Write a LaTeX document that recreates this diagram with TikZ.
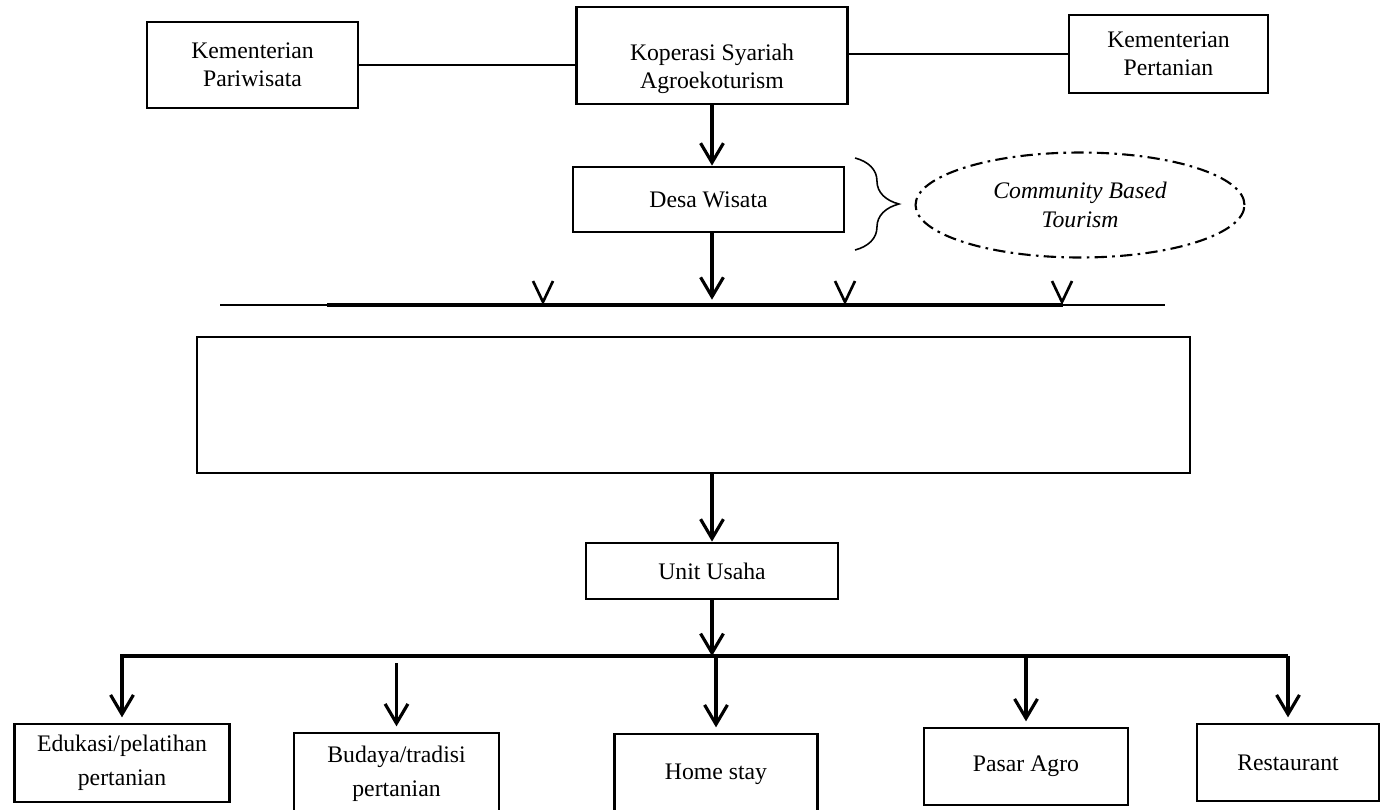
\documentclass[tikz,border=0pt]{standalone}
\usepackage{fontspec}
\setmainfont{Liberation Serif}
\usetikzlibrary{arrows.meta,shapes.geometric,decorations.pathreplacing}

\begin{document}
\begin{tikzpicture}[
      x=0.02cm, y=-0.02cm,
      font=\fontsize{13.5}{16}\selectfont,
      >={Straight Barb[length=11pt,width=13pt]},
      box/.style={draw, line width=1.6pt, align=center, inner sep=0pt},
      low/.style={box, font=\fontsize{13.5}{19.5}\selectfont},
      arr/.style={->, line width=1.8pt},
      hub/.style={line width=0.8pt}
    ]
    \useasboundingbox (0,0) rectangle (1381,809);
    % atas
    \node[box, minimum width=4.22cm, minimum height=1.72cm] (kpar) at (252.5,65) {Kementerian\\Pariwisata};
    \node[box, minimum width=5.42cm, minimum height=1.94cm] (kop) at (712,55.5)
      {\raisebox{-7.5pt}[\height][\depth]{\begin{tabular}{@{}c@{}}Koperasi Syariah\\Agroekoturism\end{tabular}}};
    \node[box, minimum width=3.98cm, minimum height=1.56cm] (ktan) at (1168.5,54) {Kementerian\\Pertanian};
    \draw[hub] (kpar.east) -- (kpar.east -| kop.west);
    \draw[hub] (kop.east |- ktan.west) -- (ktan.west);
    % desa wisata
    \node[box, minimum width=5.42cm, minimum height=1.30cm] (desa) at (708.5,199.5) {Desa Wisata};
    \node[ellipse, draw, line width=1.2pt, dash pattern=on 7pt off 3pt on 1.5pt off 3pt,
          minimum width=6.58cm, minimum height=2.1cm, align=center,
          font=\fontsize{13.5}{16.5}\selectfont\itshape] (cbt) at (1080,205) {Community Based\\Tourism};
    \draw[decorate, decoration={brace, amplitude=25pt}, line width=0.9pt] (855,158) -- (855,250);
    \draw[arr] (kop.south) -- (kop.south |- desa.north);
    % garis pertama
    \coordinate (p1) at (220,305);
    \coordinate (p2) at (1165,305);
    \draw[line width=1.2pt] (p1) -- (p2);
    \draw[line width=1.9pt] (327,305) -- (1063,305);
    \draw[arr, shorten >=3pt] (kop.south |- desa.south) -- (kop.south |- p1);
    \foreach \x in {543,845,1062}
      \draw[line width=1.5pt] (\x-10,281) -- (\x,302) -- (\x+10,281);
    % kotak besar
    \node[draw, line width=1.2pt, minimum width=19.86cm, minimum height=2.72cm] (blok) at (693.5,405) {};
    \node[box, minimum width=5.04cm, minimum height=1.12cm] (unit) at (712,571) {Unit Usaha};
    \draw[arr] (blok.south -| unit.north) -- (unit.north);
    % garis kedua
    \coordinate (q1) at (120,656);
    \coordinate (q2) at (1288,656);
    \draw[line width=1.8pt] (q1) -- (q2);
    \draw[arr] (unit.south) -- (unit.south |- q1);
    % unit-unit usaha
    \node[low, minimum width=4.3cm,  minimum height=1.56cm] (edu)   at (122,763)    {Edukasi/pelatihan\\pertanian};
    \node[low, minimum width=4.1cm,  minimum height=1.64cm] (bud)   at (396.5,774)  {Budaya/tradisi\\pertanian};
    \node[low, minimum width=4.06cm, minimum height=1.62cm] (home)  at (716,774.5)  {Home stay};
    \node[low, minimum width=4.08cm, minimum height=1.54cm] (pasar) at (1026,766.5) {Pasar Agro};
    \node[low, minimum width=3.64cm, minimum height=1.54cm] (resto) at (1288,762.5) {Restaurant};
    \foreach \n in {edu,home,pasar,resto}
      \draw[arr, shorten >=3pt] (\n.north |- q1) -- (\n.north);
    \draw[arr, shorten <=4pt, shorten >=3pt] (bud.north |- q1) -- (bud.north);
  \end{tikzpicture}
\end{document}
